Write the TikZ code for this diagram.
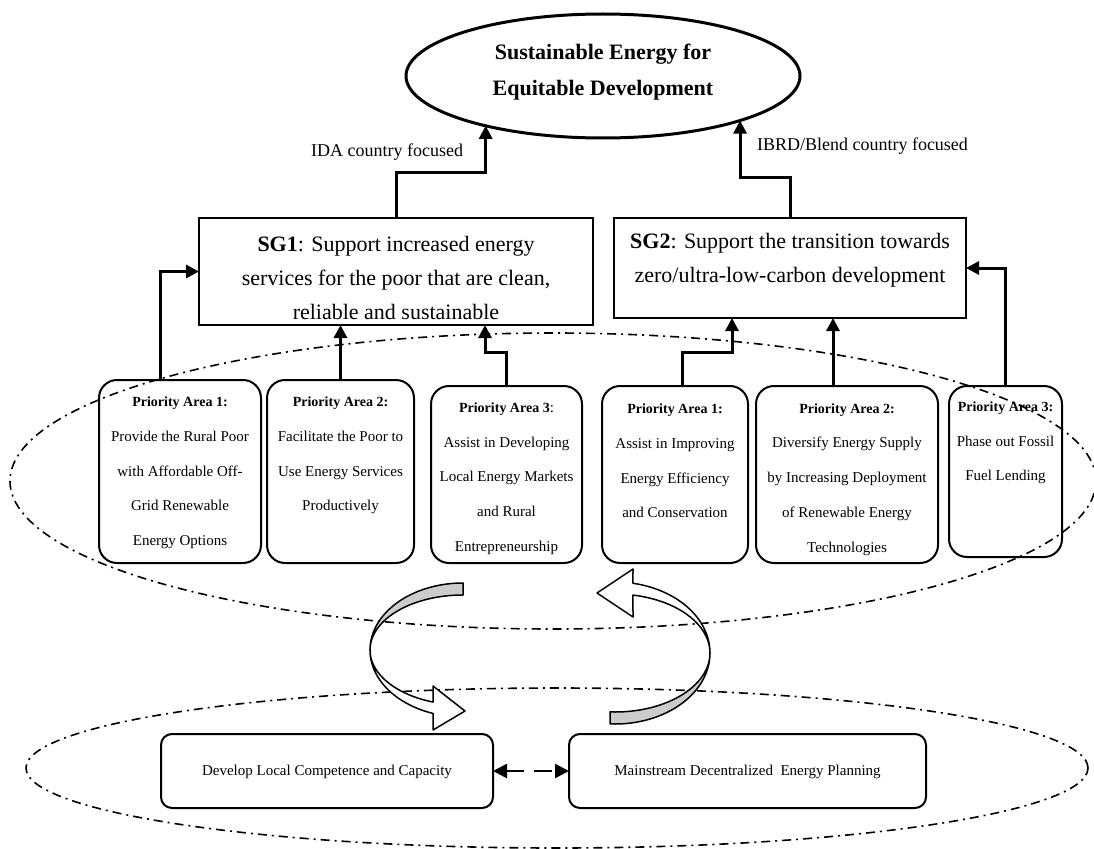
\documentclass[tikz,border=0pt]{standalone}
\usepackage{fontspec}
\setmainfont{Liberation Serif}
\usetikzlibrary{arrows.meta,shapes.geometric}
\begin{document}
\begin{tikzpicture}[x=1pt,y=-1pt,
  every node/.style={inner sep=0pt, outer sep=0pt},
  goal/.style={draw, ellipse, line width=3pt},
  sgbox/.style={draw, rectangle, line width=2pt},
  pabox/.style={draw, rectangle, rounded corners=18pt, line width=2pt},
  btbox/.style={draw, rectangle, rounded corners=11pt, line width=2pt},
  titletext/.style={align=center, font=\fontsize{22}{36}\selectfont\bfseries},
  sgtext/.style={align=center, font=\fontsize{22}{34}\selectfont},
  patext/.style={align=center, font=\fontsize{15}{34.75}\selectfont},
  bttext/.style={font=\fontsize{15}{18}\selectfont},
  lab/.style={font=\fontsize{18}{20}\selectfont},
  arr/.style={line width=3pt, -{Triangle[length=13pt,width=13pt]}},
  darr/.style={line width=2.5pt, {Triangle[length=14pt,width=14pt]}-{Triangle[length=14pt,width=14pt]}, dash pattern=on 18pt off 10pt},
  dd/.style={line width=1.6pt, dash pattern=on 9pt off 5pt on 2pt off 5pt},
  ribbon/.style={draw, line width=1.5pt, line join=round}
]
\useasboundingbox (0,0) rectangle (1094,848);

% dash-dot groupings
\draw[dd] (553,481) ellipse [x radius=543pt, y radius=148pt];
\draw[dd] (557,768) ellipse [x radius=531pt, y radius=80pt];

% goal
\node[goal, minimum width=394pt, minimum height=124pt] (title) at (603,76) {};
\node[titletext] (titlet) at (603,72) {Sustainable Energy for\\Equitable Development};

% strategic goals
\node[sgbox, minimum width=394pt, minimum height=107pt] (sg1) at (396,271.5) {};
\node[sgtext] (sg1t) at (396,277.5) {\textbf{SG1}: Support increased energy\\services for the poor that are clean,\\reliable and sustainable};
\node[sgbox, minimum width=352pt, minimum height=100pt] (sg2) at (790,268) {};
\node[sgtext] (sg2t) at (790,260.5) {\textbf{SG2}: Support the transition towards\\zero/ultra-low-carbon development};

% labels
\node[lab, anchor=east] (ida) at (463,152) {IDA country focused};
\node[lab, anchor=west] (ibrd) at (757,146) {IBRD/Blend country focused};

% priority areas SG1
\node[pabox, minimum width=162pt, minimum height=183pt] (p1) at (180,471.5) {};
\node[patext] (p1t) at (180,473) {{\fontsize{14}{34.75}\selectfont\bfseries Priority Area 1:}\\Provide the Rural Poor\\with Affordable Off-\\Grid Renewable\\Energy Options};
\node[pabox, minimum width=147pt, minimum height=183pt] (p2) at (340.5,471.5) {};
\node[patext] (p2t) at (340.5,455.5) {{\fontsize{14}{34.75}\selectfont\bfseries Priority Area 2:}\\Facilitate the Poor to\\Use Energy Services\\Productively};
\node[pabox, minimum width=151pt, minimum height=177pt] (p3) at (506.5,474.5) {};
\node[patext] (p3t) at (506.5,478.5) {{\fontsize{14}{34.75}\selectfont\bfseries Priority Area 3}:\\Assist in Developing\\Local Energy Markets\\and Rural\\Entrepreneurship};

% priority areas SG2
\node[pabox, minimum width=146pt, minimum height=177pt] (q1) at (675,474.5) {};
\node[patext] (q1t) at (675,461) {{\fontsize{14}{34.75}\selectfont\bfseries Priority Area 1:}\\Assist in Improving\\Energy Efficiency\\and Conservation};
\node[pabox, minimum width=182pt, minimum height=177pt] (q2) at (847,474.5) {};
\node[patext] (q2t) at (847,479.5) {{\fontsize{14}{34.75}\selectfont\bfseries Priority Area 2:}\\Diversify Energy Supply\\by Increasing Deployment\\of Renewable Energy\\Technologies};
\node[pabox, minimum width=113pt, minimum height=171pt] (q3) at (1005.5,471.5) {};
\node[patext] (q3t) at (1005.5,443) {{\fontsize{14}{34.75}\selectfont\bfseries Priority Area 3:}\\Phase out Fossil\\Fuel Lending};

% bottom boxes
\node[btbox, minimum width=332pt, minimum height=74pt] (b1) at (327,771) {};
\node[bttext] (b1t) at (327,772) {Develop Local Competence and Capacity};
\node[btbox, minimum width=357pt, minimum height=74pt] (b2) at (747.5,771) {};
\node[bttext] (b2t) at (747.5,772) {Mainstream Decentralized\ \ Energy Planning};

% connectors
\draw[arr] (sg1.north) -- ++(0,-46) -| (title.203.9);
\draw[arr] (sg2.north) -- ++(0,-41) -| (title.342.5);
\draw[arr] ([xshift=-20pt]p1.north) |- (sg1.west);
\coordinate (p2s) at (p2.north);
\draw[arr] (p2s) -- (p2s |- sg1.south);
\draw[arr] (p3.north) -- ++(0,-34) -| ([xshift=89pt]sg1.south);
\draw[arr] ([xshift=7pt]q1.north) -- ++(0,-34) -| ([xshift=-58pt]sg2.south);
\coordinate (q2s) at ([xshift=-14pt]q2.north);
\draw[arr] (q2s) -- (q2s |- sg2.south);
\draw[arr] (q3.north) |- (sg2.east);
\draw[darr] (b1) -- (b2);

% circular ribbon arrows
\filldraw[ribbon, fill=gray!40]
  plot[domain=270:180, samples=30, smooth, variable=\t] ({463+93*cos(\t)},{650+67*sin(\t)})
  -- plot[domain=180:270, samples=30, smooth, variable=\t] ({463+93*cos(\t)},{650+55*sin(\t)}) -- cycle;
\filldraw[ribbon, fill=white]
  plot[domain=180:108.8, samples=30, smooth, variable=\t] ({463+93*cos(\t)},{650+67*sin(\t)})
  -- (433,730) -- (465,711) -- (433,686)
  -- plot[domain=108.8:180, samples=30, smooth, variable=\t] ({463+93*cos(\t)},{650+55*sin(\t)}) -- cycle;
\filldraw[ribbon, fill=gray!40]
  plot[domain=93:0, samples=30, smooth, variable=\t] ({615+95*cos(\t)},{653+71*sin(\t)})
  -- plot[domain=0:93, samples=30, smooth, variable=\t] ({615+95*cos(\t)},{653+59*sin(\t)}) -- cycle;
\filldraw[ribbon, fill=white]
  plot[domain=0:-79.1, samples=30, smooth, variable=\t] ({615+95*cos(\t)},{653+71*sin(\t)})
  -- (633,569) -- (597,593) -- (633,617)
  -- plot[domain=-79.1:0, samples=30, smooth, variable=\t] ({615+95*cos(\t)},{653+59*sin(\t)}) -- cycle;
\end{tikzpicture}
\end{document}
